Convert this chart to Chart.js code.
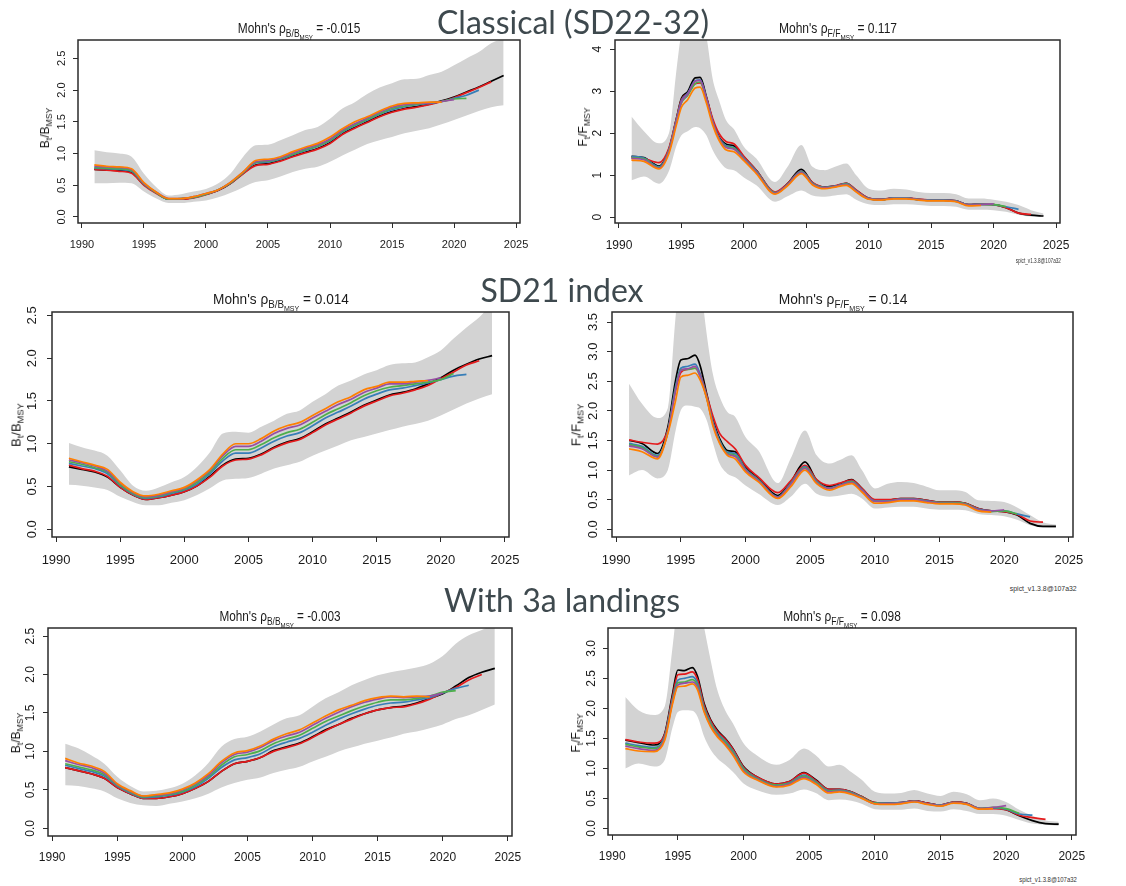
<!DOCTYPE html>
<html>
<head>
<meta charset="utf-8">
<title>Retrospective analysis</title>
<script src="https://cdn.jsdelivr.net/npm/chart.js"></script>
<style>
  html, body { margin: 0; padding: 0; background: #fff; }
  #page { position: relative; width: 1126px; height: 886px; overflow: hidden; }
  #page canvas { position: absolute; }
  .head { position: absolute; white-space: nowrap; font-family: Lato, 'Open Sans', sans-serif; line-height: 1; color: #3e494e;
    transform: translateX(-50%); }
  .ttl, .ylab, .foot { position: absolute; white-space: nowrap; line-height: 1; color: #1a1a1a;
    font-family: 'Liberation Sans Narrow', 'Liberation Sans', Arial, sans-serif; }
  .ylab { transform: translate(-50%, -50%) rotate(-90deg); }
  .ttl sub, .ylab sub { font-size: 72%; vertical-align: -0.35em; line-height: 0; }
  .foot { color: #333; transform-origin: right center; }
</style>
</head>
<body>
<div id="page"></div>
<script>
// time points
const years = [1991, 1992, 1993, 1994, 1995, 1996, 1997, 1998, 1999, 2000, 2001, 2002, 2003, 2004, 2005, 2006, 2007,
  2008, 2009, 2010, 2011, 2012, 2013, 2014, 2015, 2016, 2017, 2018, 2019, 2020, 2021, 2022, 2023, 2024];
const fTimes = [1991, 1992, 1993.2, 1994, 1994.6, 1995, 1995.5, 1996.1, 1996.5, 1997, 1997.5, 1998, 1998.6, 1999.2,
  2000, 2001, 2002.5, 2003.5, 2004.6, 2005.5, 2006.5, 2007.3, 2008.2, 2009, 2010, 2011, 2012, 2013, 2014, 2015,
  2016, 2017, 2018, 2019, 2020, 2021, 2022, 2023, 2024];

// tick labels
const yearTicks = [1990, 1995, 2000, 2005, 2010, 2015, 2020, 2025];
const bTicks = [0, 0.5, 1, 1.5, 2, 2.5];
const fTicksClassic = [0, 1, 2, 3, 4];
const fTicksSD21 = [0, 0.5, 1, 1.5, 2, 2.5, 3, 3.5];
const fTicksWith3a = [0, 0.5, 1, 1.5, 2, 2.5, 3];

const sections = ['Classical (SD22-32)', 'SD21 index', 'With 3a landings'];
const rhoB = [-0.015, 0.014, -0.003];
const rhoF = [0.117, 0.14, 0.098];
const version = 'spict_v1.3.8@107a32';

// ---- B/Bmsy, classical ----
const bClassicLo = [0.53,0.53,0.54,0.53,0.40,0.29,0.22,0.22,0.24,0.26,0.31,0.38,0.47,0.55,0.58,0.64,0.71,0.76,0.79,0.87,0.97,1.06,1.15,1.21,1.26,1.32,1.36,1.40,1.46,1.53,1.60,1.67,1.73,1.76];
const bClassicHi = [1.05,1.02,1.00,0.95,0.68,0.47,0.34,0.36,0.40,0.44,0.53,0.69,0.95,1.13,1.14,1.21,1.29,1.37,1.42,1.55,1.71,1.81,1.94,2.04,2.11,2.17,2.18,2.24,2.29,2.39,2.50,2.60,2.74,2.81];
const bClassicAll = [0.75,0.74,0.73,0.70,0.51,0.38,0.28,0.28,0.31,0.36,0.42,0.53,0.69,0.82,0.84,0.89,0.96,1.02,1.08,1.17,1.31,1.41,1.50,1.59,1.66,1.71,1.74,1.78,1.83,1.89,1.97,2.05,2.14,2.23];
const bClassic23 = [0.75,0.74,0.72,0.69,0.50,0.37,0.28,0.28,0.30,0.35,0.42,0.53,0.68,0.81,0.83,0.88,0.95,1.01,1.07,1.16,1.30,1.40,1.49,1.58,1.65,1.70,1.73,1.77,1.82,1.88,1.96,2.04,2.13];
const bClassic22 = [0.77,0.76,0.75,0.72,0.52,0.38,0.28,0.29,0.31,0.36,0.43,0.54,0.70,0.85,0.87,0.91,0.98,1.05,1.11,1.20,1.34,1.44,1.53,1.62,1.69,1.74,1.77,1.79,1.82,1.87,1.92,2.00];
const bClassic21 = [0.78,0.77,0.76,0.73,0.52,0.38,0.28,0.29,0.31,0.36,0.43,0.54,0.70,0.86,0.88,0.92,0.99,1.06,1.12,1.21,1.35,1.45,1.54,1.63,1.71,1.75,1.78,1.80,1.82,1.86,1.87];
const bClassic20 = [0.80,0.79,0.78,0.75,0.53,0.39,0.29,0.29,0.32,0.37,0.43,0.55,0.71,0.87,0.89,0.93,1.01,1.08,1.14,1.23,1.37,1.47,1.56,1.65,1.73,1.77,1.79,1.80,1.82,1.85];
const bClassic19 = [0.82,0.80,0.79,0.76,0.54,0.39,0.29,0.29,0.32,0.37,0.43,0.55,0.71,0.89,0.91,0.95,1.03,1.10,1.16,1.26,1.39,1.50,1.58,1.67,1.75,1.79,1.80,1.81,1.81];

// ---- F/Fmsy, classical ----
const fClassicLo = [0.88,0.97,0.80,1.10,1.70,1.95,2.05,2.15,2.12,1.95,1.60,1.35,1.16,1.12,0.95,0.76,0.37,0.50,0.64,0.52,0.49,0.52,0.55,0.42,0.31,0.29,0.31,0.31,0.29,0.27,0.27,0.25,0.18,0.18,0.17,0.13,0.06,0.02,0.02];
const fClassicHi = [2.40,2.05,1.76,2.00,3.50,4.40,4.80,5.00,4.80,4.30,3.30,2.80,2.30,2.10,1.68,1.40,0.84,1.20,1.72,1.20,1.12,1.20,1.28,1.00,0.68,0.64,0.68,0.66,0.60,0.58,0.58,0.55,0.45,0.45,0.42,0.37,0.29,0.17,0.09];
const fClassicAll = [1.45,1.42,1.22,1.62,2.35,2.83,2.99,3.32,3.33,2.87,2.31,1.92,1.74,1.70,1.44,1.12,0.58,0.80,1.14,0.82,0.72,0.74,0.81,0.64,0.45,0.42,0.46,0.46,0.42,0.41,0.41,0.39,0.30,0.31,0.30,0.23,0.10,0.05,0.03];
const fClassic23 = [1.42,1.40,1.30,1.65,2.35,2.80,2.95,3.18,3.20,2.85,2.35,2.00,1.80,1.75,1.45,1.12,0.60,0.80,1.10,0.83,0.72,0.75,0.81,0.65,0.46,0.43,0.46,0.46,0.43,0.41,0.41,0.39,0.30,0.31,0.30,0.23,0.10,0.07];
const fClassic22 = [1.45,1.41,1.20,1.60,2.32,2.78,2.95,3.25,3.27,2.83,2.28,1.90,1.70,1.66,1.41,1.10,0.58,0.78,1.10,0.81,0.71,0.74,0.80,0.63,0.45,0.42,0.46,0.46,0.42,0.41,0.41,0.39,0.30,0.31,0.30,0.25,0.19];
const fClassic21 = [1.42,1.39,1.18,1.58,2.28,2.72,2.90,3.18,3.22,2.80,2.26,1.88,1.68,1.64,1.39,1.08,0.58,0.77,1.08,0.80,0.70,0.73,0.79,0.62,0.44,0.42,0.45,0.45,0.42,0.40,0.40,0.38,0.29,0.30,0.30,0.25];
const fClassic20 = [1.40,1.37,1.17,1.57,2.28,2.74,2.93,3.24,3.26,2.82,2.27,1.88,1.66,1.62,1.38,1.07,0.57,0.77,1.07,0.79,0.70,0.73,0.78,0.62,0.44,0.42,0.45,0.45,0.42,0.40,0.40,0.38,0.29,0.30,0.32];
const fClassic19 = [1.36,1.33,1.15,1.52,2.20,2.62,2.80,3.08,3.10,2.72,2.20,1.84,1.60,1.56,1.35,1.04,0.55,0.75,1.04,0.77,0.68,0.72,0.76,0.60,0.43,0.41,0.44,0.44,0.41,0.39,0.39,0.37,0.27,0.28];

// ---- B/Bmsy, SD21 index ----
const bSD21Lo = [0.52,0.51,0.49,0.46,0.38,0.32,0.28,0.28,0.31,0.34,0.40,0.48,0.57,0.59,0.60,0.65,0.71,0.75,0.79,0.86,0.92,0.98,1.04,1.08,1.12,1.16,1.20,1.23,1.27,1.33,1.40,1.47,1.53,1.58];
const bSD21Hi = [1.01,0.96,0.92,0.86,0.69,0.51,0.45,0.49,0.55,0.61,0.73,0.90,1.12,1.14,1.13,1.20,1.27,1.35,1.39,1.49,1.58,1.68,1.74,1.81,1.86,1.92,1.94,1.95,2.01,2.09,2.23,2.36,2.48,2.64];
const bSD21All = [0.73,0.70,0.67,0.61,0.49,0.40,0.35,0.37,0.40,0.44,0.51,0.62,0.75,0.82,0.83,0.88,0.96,1.02,1.06,1.14,1.23,1.30,1.37,1.45,1.51,1.57,1.60,1.64,1.70,1.77,1.86,1.93,1.99,2.03];
const bSD21_23 = [0.75,0.71,0.68,0.62,0.49,0.40,0.35,0.37,0.40,0.44,0.51,0.61,0.74,0.81,0.82,0.87,0.95,1.01,1.05,1.13,1.22,1.29,1.36,1.44,1.50,1.56,1.59,1.63,1.68,1.76,1.84,1.92,1.97];
const bSD21_22 = [0.77,0.74,0.71,0.65,0.51,0.41,0.36,0.38,0.42,0.46,0.53,0.65,0.80,0.89,0.89,0.95,1.03,1.09,1.13,1.21,1.30,1.37,1.44,1.52,1.58,1.63,1.65,1.68,1.71,1.75,1.79,1.81];
const bSD21_21 = [0.79,0.76,0.72,0.67,0.52,0.42,0.37,0.39,0.43,0.47,0.55,0.67,0.83,0.93,0.93,0.99,1.07,1.13,1.17,1.25,1.34,1.41,1.48,1.56,1.62,1.66,1.68,1.70,1.72,1.75,1.82];
const bSD21_20 = [0.81,0.78,0.74,0.68,0.54,0.43,0.38,0.40,0.44,0.48,0.57,0.69,0.86,0.97,0.97,1.03,1.12,1.18,1.22,1.30,1.38,1.46,1.52,1.60,1.65,1.70,1.70,1.72,1.74,1.77];
const bSD21_19 = [0.83,0.79,0.75,0.70,0.55,0.44,0.39,0.41,0.45,0.49,0.58,0.70,0.88,1.00,1.00,1.06,1.15,1.21,1.25,1.33,1.41,1.49,1.55,1.63,1.67,1.72,1.72,1.73,1.74];

// ---- F/Fmsy, SD21 index ----
const fSD21Lo = [0.91,1.00,0.86,1.00,1.67,2.01,2.09,2.07,2.04,1.84,1.45,1.11,0.94,0.88,0.74,0.60,0.41,0.55,0.77,0.60,0.55,0.57,0.60,0.52,0.35,0.37,0.38,0.38,0.35,0.33,0.33,0.32,0.26,0.24,0.22,0.16,0.07,0.03,0.02];
const fSD21Hi = [2.46,2.12,1.88,2.05,3.60,4.40,4.80,4.80,4.20,3.30,2.60,2.24,1.98,1.90,1.56,1.33,0.78,1.20,1.67,1.25,1.11,1.17,1.25,1.00,0.69,0.77,0.80,0.78,0.72,0.66,0.66,0.63,0.49,0.48,0.46,0.37,0.24,0.12,0.08];
const fSD21All = [1.50,1.45,1.28,1.73,2.52,2.86,2.88,2.94,2.76,2.29,1.84,1.53,1.33,1.31,1.05,0.86,0.57,0.80,1.14,0.83,0.72,0.77,0.84,0.69,0.49,0.49,0.52,0.52,0.49,0.46,0.46,0.44,0.35,0.31,0.30,0.24,0.10,0.05,0.05];
const fSD21_23 = [1.51,1.47,1.44,1.68,2.35,2.65,2.70,2.72,2.62,2.27,1.90,1.62,1.48,1.36,1.08,0.88,0.62,0.82,1.08,0.84,0.74,0.78,0.83,0.69,0.50,0.50,0.52,0.52,0.49,0.46,0.46,0.44,0.35,0.31,0.30,0.25,0.14,0.12];
const fSD21_22 = [1.45,1.40,1.25,1.66,2.42,2.72,2.75,2.79,2.62,2.24,1.80,1.50,1.30,1.28,1.02,0.84,0.55,0.78,1.06,0.81,0.70,0.75,0.81,0.67,0.48,0.48,0.51,0.51,0.48,0.45,0.45,0.43,0.34,0.31,0.31,0.26,0.21];
const fSD21_21 = [1.43,1.38,1.23,1.65,2.38,2.69,2.70,2.72,2.58,2.22,1.78,1.48,1.28,1.25,1.01,0.83,0.54,0.77,1.04,0.80,0.69,0.74,0.80,0.66,0.47,0.47,0.50,0.50,0.47,0.45,0.45,0.43,0.33,0.30,0.31,0.26];
const fSD21_20 = [1.41,1.36,1.22,1.64,2.36,2.68,2.71,2.75,2.58,2.22,1.77,1.47,1.27,1.23,1.00,0.82,0.54,0.76,1.03,0.79,0.69,0.74,0.79,0.66,0.47,0.47,0.50,0.50,0.47,0.44,0.44,0.42,0.33,0.31,0.33];
const fSD21_19 = [1.36,1.31,1.19,1.62,2.18,2.57,2.60,2.64,2.52,2.21,1.73,1.45,1.25,1.19,0.97,0.80,0.52,0.72,1.00,0.77,0.66,0.72,0.77,0.63,0.44,0.45,0.48,0.48,0.45,0.43,0.43,0.41,0.31,0.29];

// ---- B/Bmsy, with 3a landings ----
const bW3aLo = [0.56,0.55,0.52,0.48,0.39,0.33,0.30,0.29,0.32,0.35,0.39,0.45,0.53,0.59,0.63,0.66,0.72,0.76,0.80,0.87,0.93,1.00,1.05,1.10,1.14,1.18,1.23,1.26,1.30,1.35,1.42,1.47,1.54,1.61];
const bW3aHi = [1.10,1.04,0.95,0.84,0.67,0.55,0.48,0.49,0.52,0.58,0.69,0.85,1.06,1.16,1.19,1.26,1.35,1.43,1.47,1.58,1.69,1.77,1.86,1.93,1.99,2.03,2.06,2.09,2.14,2.24,2.40,2.51,2.58,2.66];
const bW3aAll = [0.79,0.75,0.71,0.65,0.53,0.45,0.39,0.39,0.41,0.45,0.52,0.61,0.74,0.84,0.87,0.92,1.01,1.06,1.11,1.19,1.28,1.35,1.43,1.49,1.54,1.57,1.59,1.63,1.69,1.75,1.85,1.96,2.03,2.08];
const bW3a23 = [0.79,0.75,0.71,0.65,0.53,0.45,0.39,0.39,0.41,0.45,0.52,0.61,0.74,0.84,0.87,0.92,1.00,1.05,1.10,1.18,1.27,1.35,1.42,1.49,1.54,1.57,1.58,1.62,1.68,1.76,1.83,1.93,2.00];
const bW3a22 = [0.82,0.78,0.74,0.68,0.55,0.46,0.40,0.41,0.43,0.47,0.54,0.65,0.79,0.89,0.92,0.97,1.06,1.12,1.17,1.25,1.34,1.42,1.49,1.55,1.60,1.63,1.64,1.67,1.70,1.76,1.82,1.86];
const bW3a21 = [0.84,0.80,0.76,0.70,0.56,0.47,0.41,0.42,0.44,0.48,0.56,0.67,0.82,0.93,0.96,1.01,1.10,1.16,1.21,1.30,1.39,1.46,1.53,1.59,1.64,1.67,1.67,1.69,1.72,1.77,1.79];
const bW3a20 = [0.88,0.83,0.79,0.72,0.57,0.48,0.42,0.43,0.45,0.50,0.58,0.69,0.85,0.96,0.99,1.05,1.14,1.20,1.25,1.34,1.43,1.51,1.58,1.64,1.68,1.71,1.70,1.71,1.72,1.76];
const bW3a19 = [0.91,0.85,0.81,0.74,0.58,0.49,0.42,0.44,0.46,0.51,0.59,0.71,0.87,0.98,1.01,1.07,1.16,1.23,1.28,1.37,1.46,1.54,1.60,1.66,1.70,1.72,1.71,1.72,1.71];

// ---- F/Fmsy, with 3a landings ----
const fW3aLo = [1.00,1.08,1.03,1.14,1.69,1.94,1.97,1.96,1.86,1.53,1.31,1.17,1.06,0.94,0.75,0.64,0.56,0.58,0.65,0.59,0.47,0.48,0.46,0.41,0.32,0.31,0.31,0.33,0.29,0.28,0.32,0.29,0.24,0.24,0.21,0.14,0.08,0.06,0.04];
const fW3aHi = [2.19,1.97,1.89,2.03,3.03,3.80,4.20,4.20,3.90,3.35,2.80,2.31,1.97,1.75,1.42,1.22,1.06,1.14,1.33,1.22,1.03,1.06,0.94,0.81,0.61,0.58,0.59,0.64,0.58,0.54,0.61,0.57,0.47,0.50,0.44,0.31,0.21,0.13,0.11];
const fW3aAll = [1.47,1.43,1.39,1.58,2.25,2.64,2.63,2.68,2.53,2.08,1.81,1.64,1.50,1.33,1.03,0.86,0.74,0.78,0.93,0.81,0.65,0.65,0.61,0.53,0.43,0.42,0.43,0.46,0.42,0.39,0.44,0.42,0.33,0.34,0.31,0.21,0.13,0.08,0.07];
const fW3a23 = [1.48,1.44,1.42,1.57,2.20,2.56,2.57,2.61,2.48,2.05,1.79,1.62,1.49,1.32,1.02,0.86,0.74,0.78,0.92,0.80,0.65,0.65,0.61,0.53,0.43,0.42,0.43,0.46,0.42,0.39,0.44,0.42,0.33,0.33,0.31,0.22,0.18,0.15];
const fW3a22 = [1.42,1.38,1.35,1.54,2.16,2.47,2.50,2.53,2.42,2.01,1.76,1.59,1.46,1.29,1.00,0.84,0.72,0.76,0.89,0.78,0.63,0.64,0.60,0.52,0.42,0.42,0.43,0.45,0.41,0.39,0.43,0.41,0.33,0.34,0.32,0.24,0.22];
const fW3a21 = [1.40,1.36,1.33,1.52,2.13,2.43,2.44,2.48,2.38,1.99,1.74,1.57,1.44,1.27,0.99,0.83,0.72,0.75,0.87,0.77,0.62,0.63,0.59,0.52,0.42,0.41,0.42,0.45,0.41,0.38,0.43,0.41,0.33,0.35,0.33,0.25];
const fW3a20 = [1.37,1.33,1.30,1.50,2.11,2.39,2.42,2.44,2.35,1.96,1.71,1.55,1.41,1.24,0.96,0.82,0.70,0.74,0.85,0.75,0.61,0.62,0.58,0.51,0.41,0.41,0.42,0.45,0.41,0.38,0.43,0.41,0.33,0.35,0.38];
const fW3a19 = [1.33,1.29,1.28,1.47,2.08,2.36,2.37,2.41,2.31,1.94,1.69,1.53,1.39,1.22,0.94,0.81,0.69,0.72,0.83,0.74,0.59,0.61,0.57,0.50,0.41,0.40,0.41,0.44,0.40,0.37,0.42,0.40,0.32,0.33];

// full run first, then peels dropping 1..5 years
const peelColors = ['#000000', '#e41a1c', '#377eb8', '#4daf4a', '#984ea3', '#ff7f00'];
const bandColor = '#d3d3d3';
const axisColor = '#2b2b2b';
const textColor = '#1a1a1a';
const tickFamily = "'Liberation Sans Narrow', 'Liberation Sans', Arial, sans-serif";
const xMin = 1989.68, xMax = 2025.32;

const page = document.getElementById('page');
const measureCtx = document.createElement('canvas').getContext('2d');

function pts(t, v) { return v.map((y, i) => ({ x: t[i], y })); }

function textWidth(s, size, family) {
  measureCtx.font = size + 'px ' + family;
  return measureCtx.measureText(s).width;
}

// top of a line-height:1 box whose baseline should sit at y
function topFor(baseline, size, family) {
  measureCtx.font = size + 'px ' + family;
  const m = measureCtx.measureText('Mg');
  const asc = m.fontBoundingBoxAscent, desc = m.fontBoundingBoxDescent;
  return baseline - (asc - (asc + desc - size) / 2);
}

function addDiv(cls, html, css) {
  const d = document.createElement('div');
  d.className = cls;
  d.innerHTML = html;
  Object.assign(d.style, css);
  page.appendChild(d);
  return d;
}

const frame = {
  id: 'frame',
  afterDraw(chart) {
    const { ctx, chartArea: a } = chart;
    ctx.save();
    ctx.strokeStyle = axisColor;
    ctx.lineWidth = 1.5;
    ctx.strokeRect(a.left, a.top, a.right - a.left, a.bottom - a.top);
    ctx.restore();
  }
};

const panels = [
  { box: [78, 40, 520, 223], yMin: -0.095, yMax: 2.79, yTicks: bTicks, dec: 1, font: 11, yPad: 16, xPad: 15,
    t: years, lo: bClassicLo, hi: bClassicHi,
    runs: [bClassicAll, bClassic23, bClassic22, bClassic21, bClassic20, bClassic19],
    q: 'B', rho: rhoB[0], titleY: 33, titleSize: 14, squeeze: 0.85, ylab: [45, 128], ylabSize: 12 },
  { box: [615, 40, 1060, 223], yMin: -0.136, yMax: 4.22, yTicks: fTicksClassic, dec: 0, font: 12, yPad: 17.5, xPad: 15,
    t: fTimes, lo: fClassicLo, hi: fClassicHi,
    runs: [fClassicAll, fClassic23, fClassic22, fClassic21, fClassic20, fClassic19],
    q: 'F', rho: rhoF[0], titleY: 33, titleSize: 14, squeeze: 0.86, ylab: [582.5, 127], ylabSize: 12,
    foot: [1061, 264, 6.5, 0.72] },
  { box: [52, 312, 509, 537], yMin: -0.09, yMax: 2.54, yTicks: bTicks, dec: 1, font: 13, yPad: 20, xPad: 16,
    t: years, lo: bSD21Lo, hi: bSD21Hi,
    runs: [bSD21All, bSD21_23, bSD21_22, bSD21_21, bSD21_20, bSD21_19],
    q: 'B', rho: rhoB[1], titleY: 304, titleSize: 15.5, squeeze: 0.88, ylab: [16, 425], ylabSize: 13 },
  { box: [612, 312, 1073, 537], yMin: -0.13, yMax: 3.67, yTicks: fTicksSD21, dec: 1, font: 13, yPad: 19, xPad: 16,
    t: fTimes, lo: fSD21Lo, hi: fSD21Hi,
    runs: [fSD21All, fSD21_23, fSD21_22, fSD21_21, fSD21_20, fSD21_19],
    q: 'F', rho: rhoF[1], titleY: 304, titleSize: 15.5, squeeze: 0.89, ylab: [576, 425], ylabSize: 13,
    foot: [1077, 591, 7.5, 0.92] },
  { box: [48, 628, 512, 836], yMin: -0.10, yMax: 2.605, yTicks: bTicks, dec: 1, font: 12, yPad: 17, xPad: 14,
    t: years, lo: bW3aLo, hi: bW3aHi,
    runs: [bW3aAll, bW3a23, bW3a22, bW3a21, bW3a20, bW3a19],
    q: 'B', rho: rhoB[2], titleY: 621, titleSize: 14, squeeze: 0.84, ylab: [16, 733], ylabSize: 12 },
  { box: [608, 628, 1076, 835], yMin: -0.11, yMax: 3.34, yTicks: fTicksWith3a, dec: 1, font: 12, yPad: 16, xPad: 14,
    t: fTimes, lo: fW3aLo, hi: fW3aHi,
    runs: [fW3aAll, fW3a23, fW3a22, fW3a21, fW3a20, fW3a19],
    q: 'F', rho: rhoF[2], titleY: 621, titleSize: 14, squeeze: 0.85, ylab: [576, 733], ylabSize: 12,
    foot: [1077, 882, 7, 0.85] }
];

function buildPanel(p) {
  const [l, t, r, b] = p.box;
  const padL = 70, padT = 24, padR = 24, padB = 40, tickLen = 5;
  const cv = document.createElement('canvas');
  cv.width = r - l + padL + padR;
  cv.height = b - t + padT + padB;
  cv.style.left = (l - padL) + 'px';
  cv.style.top = (t - padT) + 'px';
  page.appendChild(cv);

  const fmt = v => v.toFixed(p.dec);
  const font = { family: tickFamily, size: p.font };
  const widest = Math.max(...p.yTicks.map(v => textWidth(fmt(v), p.font, tickFamily)));

  const datasets = [
    { data: pts(p.t, p.lo), borderWidth: 0, pointRadius: 0, fill: false, order: 20 },
    { data: pts(p.t, p.hi), borderWidth: 0, pointRadius: 0, fill: '-1', backgroundColor: bandColor, order: 19 }
  ];
  p.runs.forEach((run, i) => datasets.push({
    data: pts(p.t, run), borderColor: peelColors[i], borderWidth: 1.7,
    pointRadius: 0, fill: false, order: 10 - i
  }));

  const grid = { drawOnChartArea: false, tickLength: tickLen, color: axisColor, lineWidth: 1 };

  new Chart(cv, {
    type: 'line',
    data: { datasets },
    options: {
      responsive: false,
      animation: false,
      events: [],
      layout: { padding: { top: padT, right: padR, left: 0, bottom: 0 } },
      elements: { line: { cubicInterpolationMode: 'monotone' } },
      plugins: { legend: { display: false }, tooltip: { enabled: false } },
      scales: {
        x: {
          type: 'linear', min: xMin, max: xMax,
          afterBuildTicks: s => { s.ticks = yearTicks.map(v => ({ value: v })); },
          afterFit: s => { s.height = padB; },
          grid, border: { display: false },
          ticks: { font, color: textColor, padding: p.xPad - tickLen, maxRotation: 0, autoSkip: false,
                   callback: v => String(v) }
        },
        y: {
          type: 'linear', min: p.yMin, max: p.yMax,
          afterBuildTicks: s => { s.ticks = p.yTicks.map(v => ({ value: v })); },
          afterFit: s => { s.width = padL; },
          grid, border: { display: false },
          ticks: { font, color: textColor, minRotation: 90, maxRotation: 90, crossAlign: 'center',
                   padding: p.yPad - tickLen - widest / 2, autoSkip: false, callback: fmt }
        }
      }
    },
    plugins: [frame]
  });

  const q = p.q;
  addDiv('ttl', `Mohn's ρ<sub>${q}/${q}<sub>MSY</sub></sub> = ${p.rho}`, {
    left: ((l + r) / 2) + 'px', top: topFor(p.titleY, p.titleSize, tickFamily) + 'px', fontSize: p.titleSize + 'px',
    transform: `translateX(-50%) scaleX(${p.squeeze})`
  });
  addDiv('ylab', `${q}<sub>t</sub>/${q}<sub>MSY</sub>`, {
    left: p.ylab[0] + 'px', top: p.ylab[1] + 'px', fontSize: p.ylabSize + 'px'
  });
  if (p.foot) {
    const [fr, fb, fs, fx] = p.foot;
    const d = addDiv('foot', version, { top: topFor(fb, fs, tickFamily) + 'px', fontSize: fs + 'px', transform: `scaleX(${fx})` });
    d.style.left = (fr - d.offsetWidth) + 'px';
  }
}

panels.forEach(buildPanel);

// section headings, centred
const headSize = 32;
const headFamily = "Lato, 'Open Sans', sans-serif";
[[573, 34], [562, 302], [562, 612]].forEach(([cx, base], i) => {
  addDiv('head', sections[i], { left: cx + 'px', top: topFor(base, headSize, headFamily) + 'px', fontSize: headSize + 'px' });
});
</script>
</body>
</html>
